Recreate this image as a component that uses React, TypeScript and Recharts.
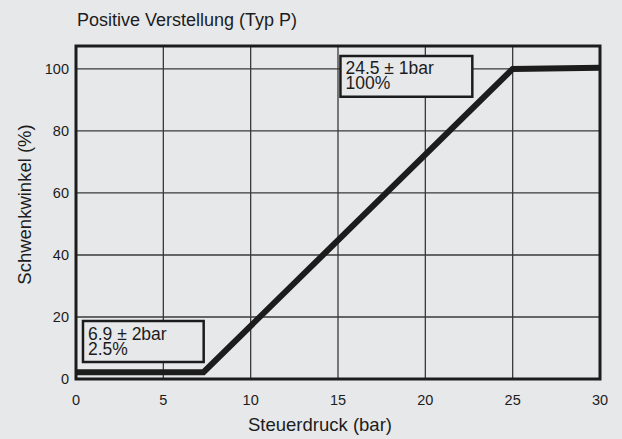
import React from 'react';
import { LineChart, Line, XAxis, YAxis, CartesianGrid, ReferenceArea, Label } from 'recharts';

const pressure = [0, 7.3, 25, 30];
const angle = [2.2, 2.2, 100, 100.4];
const xTicks = [0, 5, 10, 15, 20, 25, 30];
const yTicks = [0, 20, 40, 60, 80, 100];
const lowNote = ['6.9 ± 2bar', '2.5%'];
const highNote = ['24.5 ± 1bar', '100%'];

const data = pressure.map((p, i) => ({ p, a: angle[i] }));

const BG = '#e7e8ea';
const INK = '#1c1c1c';
const FONT = '"Liberation Sans", Arial, Helvetica, sans-serif';

const NoteText = ({ viewBox, lines }: any) => {
  const { x, y } = viewBox;
  return (
    <text x={x + 5} y={y} fontSize={17.5} fill={INK} fontFamily={FONT}>
      {lines.map((l: string, i: number) => (
        <tspan key={i} x={x + 5} dy={i === 0 ? 18.5 : 15}>{l}</tspan>
      ))}
    </text>
  );
};

const XTitle = ({ viewBox }: any) => (
  <text x={viewBox.x + viewBox.width / 2 - 18} y={viewBox.y + 45} textAnchor="middle" dominantBaseline="central"
    fontSize={18.5} fill={INK} fontFamily={FONT}>
    Steuerdruck (bar)
  </text>
);

const YTitle = ({ viewBox }: any) => {
  const cx = viewBox.x + 24;
  const cy = viewBox.y + viewBox.height / 2 - 8;
  return (
    <text x={cx} y={cy} transform={`rotate(-90, ${cx}, ${cy})`} textAnchor="middle" dominantBaseline="central"
      fontSize={18.5} fill={INK} fontFamily={FONT}>
      Schwenkwinkel (%)
    </text>
  );
};

const App: React.FC = () => {
  return (
    <div style={{ position: 'absolute', left: 0, top: 0, width: 622, height: 439, backgroundColor: BG, fontFamily: FONT }}>
      <div style={{ position: 'absolute', left: 77, top: 11, fontSize: 18, lineHeight: '18px', color: INK }}>
        Positive Verstellung (Typ P)
      </div>
      <LineChart width={622} height={439} data={data} margin={{ top: 46, right: 22, bottom: 0, left: 0 }}>
        <CartesianGrid stroke="#3a3a3a" strokeWidth={1.3} />
        <XAxis
          dataKey="p"
          type="number"
          domain={[0, 30]}
          ticks={xTicks}
          allowDataOverflow
          height={60}
          tickSize={0}
          tickMargin={16}
          axisLine={false}
          tick={{ fill: INK, fontSize: 14.5, fontFamily: FONT }}
        >
          <Label content={<XTitle />} />
        </XAxis>
        <YAxis
          type="number"
          domain={[0, 107.4]}
          ticks={yTicks}
          allowDataOverflow
          width={76}
          tickSize={0}
          tickMargin={7}
          axisLine={false}
          tick={{ fill: INK, fontSize: 14.5, fontFamily: FONT }}
        >
          <Label content={<YTitle />} />
        </YAxis>
        <ReferenceArea x1={0.4} x2={7.31} y1={5.5} y2={18.7} fill={BG} fillOpacity={1} stroke={INK} strokeWidth={2.5}
          label={<NoteText lines={lowNote} />} />
        <ReferenceArea x1={15.14} x2={22.69} y1={91} y2={104.2} fill={BG} fillOpacity={1} stroke={INK} strokeWidth={2.5}
          label={<NoteText lines={highNote} />} />
        <Line dataKey="a" stroke={INK} strokeWidth={6} dot={false} strokeLinejoin="miter" isAnimationActive={false} />
        <ReferenceArea x1={0} x2={30} y1={0} y2={107.4} fill="none" stroke={INK} strokeWidth={3} />
      </LineChart>
    </div>
  );
};

export default App;
